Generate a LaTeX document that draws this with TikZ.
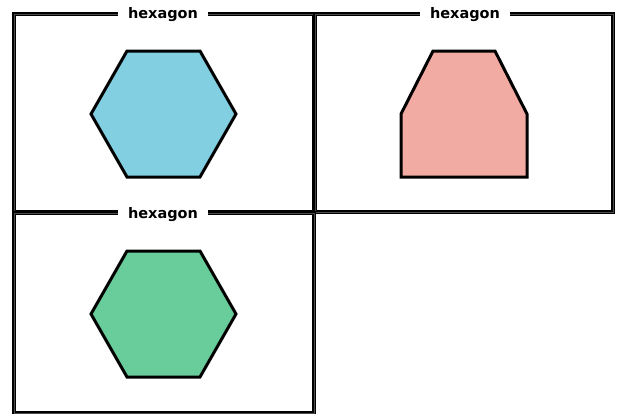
\documentclass[tikz,border=0pt]{standalone}
\usepackage{fontspec}
\newfontfamily\tagfont{DejaVu Sans}
\definecolor{hexblue}{RGB}{131,207,226}
\definecolor{hexpink}{RGB}{242,171,162}
\definecolor{hexgreen}{RGB}{105,205,155}
\tikzset{
	frame/.style={draw=black,line width=1.7pt,double=black!70,double distance=0.6pt},
	tag/.style={fill=white,inner xsep=10pt,inner ysep=1pt,font=\tagfont\bfseries\fontsize{14.5}{16}\selectfont},
	polyline/.style={draw=black,line width=3pt}
}
\begin{document}
\begin{tikzpicture}[x=1pt,y=-1pt,line join=miter]
	\useasboundingbox (0,0) rectangle (617,413);
	
	% frames
	\draw[frame] (14,14) rectangle (314,212);
	\draw[frame] (315,14) rectangle (613,212);
	\draw[frame] (14,213) rectangle (314,413);
	
	\node[tag] (t1) at (163,15) {hexagon};
	\node[tag] (t2) at (465,15) {hexagon};
	\node[tag] (t3) at (163,215) {hexagon};
	
	% blue hexagon
	\coordinate (A) at (91,114);
	\coordinate (B) at (127,51);
	\coordinate (C) at (200,51);
	\coordinate (D) at (236,114);
	\coordinate (E) at (200,177);
	\coordinate (F) at (127,177);
	\filldraw[polyline,fill=hexblue] (A) -- (B) -- (C) -- (D) -- (E) -- (F) -- cycle;
	
	% pink shape
	\coordinate (P) at (401,114);
	\coordinate (Q) at (433,51);
	\coordinate (R) at (495,51);
	\coordinate (S) at (527,114);
	\coordinate (T) at (527,177);
	\coordinate (U) at (401,177);
	\filldraw[polyline,fill=hexpink] (P) -- (Q) -- (R) -- (S) -- (T) -- (U) -- cycle;
	
	% green hexagon
	\coordinate (A') at (91,314);
	\coordinate (B') at (127,251);
	\coordinate (C') at (200,251);
	\coordinate (D') at (236,314);
	\coordinate (E') at (200,377);
	\coordinate (F') at (127,377);
	\filldraw[polyline,fill=hexgreen] (A') -- (B') -- (C') -- (D') -- (E') -- (F') -- cycle;
\end{tikzpicture}
\end{document}
